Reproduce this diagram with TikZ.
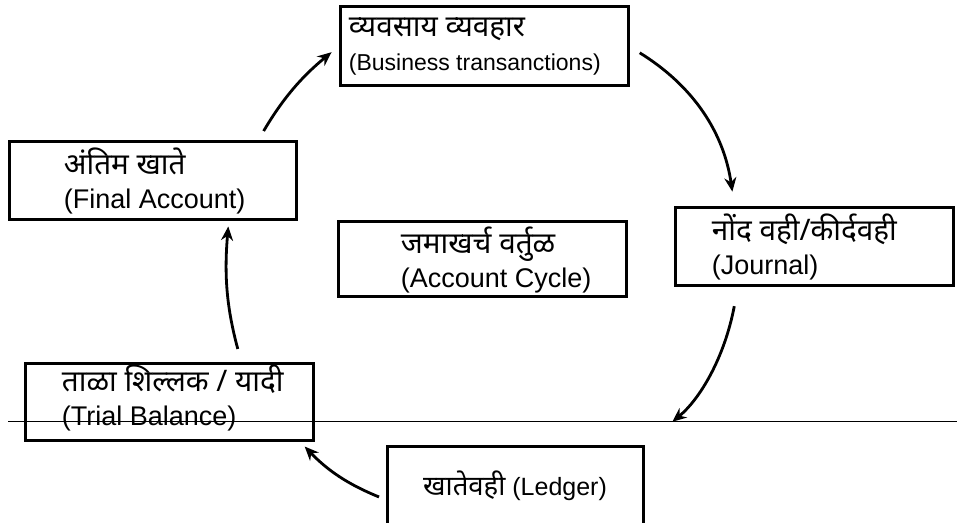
\documentclass[tikz,border=0pt]{standalone}
\usepackage{fontspec}
\setmainfont{Liberation Sans}
\newfontfamily\deva[Script=Devanagari,Scale=1.1]{Noto Sans}
\usetikzlibrary{arrows.meta}

\tikzset{
  stage/.style={draw, line width=1.5pt, inner sep=0pt},
  caption/.style={anchor=west, align=left, inner sep=0pt,
    font=\fontsize{13.5pt}{17pt}\selectfont},
  flow/.style={line width=1.4pt, -{Stealth[length=7pt,width=6pt]}}
}

\begin{document}
\begin{tikzpicture}[x=0.5pt,y=-0.5pt]

\clip (0,0) rectangle (957,523);

\coordinate (B) at (484,46.5);
\coordinate (F) at (152.5,181);
\coordinate (C) at (482,259.5);
\coordinate (J) at (814,247);
\coordinate (T) at (169,401.5);
\coordinate (L) at (515,486);

\draw[line width=0.5pt] (8,421.5)--(957,421.5);

\node[stage, minimum width=144pt, minimum height=39.5pt] (business) at (B) {};
\node[stage, minimum width=143.5pt, minimum height=39pt] (final) at (F) {};
\node[stage, minimum width=144pt, minimum height=37.5pt] (cycle) at (C) {};
\node[stage, minimum width=139pt, minimum height=39pt] (journal) at (J) {};
\node[stage, minimum width=144pt, minimum height=38.5pt] (trial) at (T) {};
\node[stage, minimum width=128pt, minimum height=40pt,
  font=\fontsize{12.5pt}{17pt}\selectfont] (ledger) at (L) {{\deva खातेवही} (Ledger)};

\node[caption, font=\fontsize{11.5pt}{17pt}\selectfont] (businesstext) at ([xshift=5pt]business.west)
  {{\deva\fontsize{13.5pt}{17pt}\selectfont व्यवसाय व्यवहार}\\(Business transanctions)};
\node[caption] (finaltext) at ([xshift=28pt]final.west)
  {{\deva अंतिम खाते}\\(Final Account)};
\node[caption] (cycletext) at ([xshift=32pt]cycle.west)
  {{\deva जमाखर्च वर्तुळ}\\(Account Cycle)};
\node[caption] (journaltext) at ([xshift=19pt]journal.west)
  {{\deva नोंद वही/कीर्दवही}\\(Journal)};
\node[caption] (trialtext) at ([xshift=19pt,yshift=2pt]trial.west)
  {{\deva ताळा शिल्लक / यादी}\\(Trial Balance)};

\draw[flow, shorten <=5.5pt, shorten >=4.5pt] (final.21) to[bend left=10] (business.west);
\draw[flow, shorten <=6pt, shorten >=7.5pt] (business.east) to[bend left=25] (journal.153);
\draw[flow, shorten <=9.5pt, shorten >=18pt] (journal.208) to[bend left=20] (ledger.north east);
\draw[flow, shorten <=3.5pt, shorten >=3.5pt] (ledger.186) to[bend left=12] (trial.-17);
\draw[flow, shorten <=6.5pt, shorten >=2.5pt] (trial.29) to[bend left=10] (final.-28);

\end{tikzpicture}
\end{document}
